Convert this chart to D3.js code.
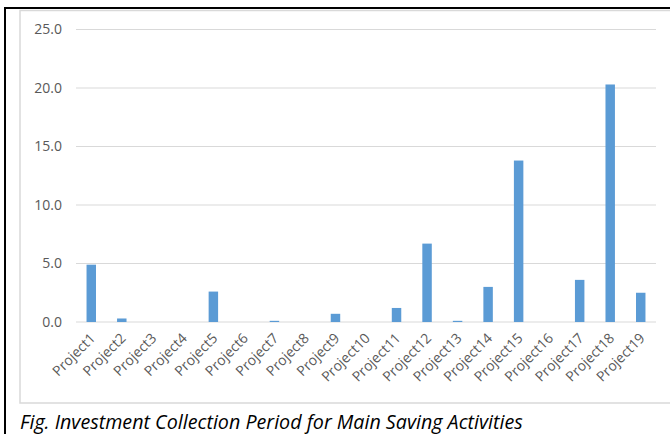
<!DOCTYPE html>
<html>
<head>
<meta charset="utf-8">
<script src="https://cdn.jsdelivr.net/npm/d3@7"></script>
<style>
body { margin:0; background:#fff; }
</style>
</head>
<body>
<svg id="chart"></svg>
<script>
var projects = ["Project1","Project2","Project3","Project4","Project5","Project6","Project7",
    "Project8","Project9","Project10","Project11","Project12","Project13","Project14",
    "Project15","Project16","Project17","Project18","Project19"]
var periods = [4.9,0.3,0,0,2.6,0,0.1,0,0.7,0,1.2,6.7,0.1,3.0,13.8,0,3.6,20.3,2.5]
var yTicks = [0,5,10,15,20,25]
var caption = "Fig. Investment Collection Period for Main Saving Activities"

var screen = {width:670, height:434}
var margins = {top:29.5, left:76, right:14, bottom:112}
var graph = {
    width:screen.width-margins.left-margins.right,
    height:screen.height-margins.top-margins.bottom
}

var svg = d3.select("#chart")
    .attr("width",screen.width)
    .attr("height",screen.height)

// outer frame (black) and chart area (gray)
svg.append("rect")
    .attr("x",20).attr("y",10.5)
    .attr("width",670).attr("height",392.5)
    .attr("fill","none")
    .attr("stroke","#d9d9d9")
    .attr("stroke-width",1.5)

svg.append("line")
    .attr("x1",5).attr("x2",670).attr("y1",8).attr("y2",8)
    .attr("stroke","#000").attr("stroke-width",2)
svg.append("line")
    .attr("x1",5).attr("x2",5).attr("y1",7).attr("y2",434)
    .attr("stroke","#000").attr("stroke-width",2)

var xScale = d3.scaleBand()
    .domain(projects)
    .range([0,graph.width])
    .paddingInner(0.69)
    .paddingOuter(0.345)

var yScale = d3.scaleLinear()
    .domain([0,25])
    .range([graph.height,0])

var g = svg.append("g")
    .attr("transform","translate("+margins.left+","+margins.top+")")

// gridlines
g.append("g")
    .selectAll("line")
    .data(yTicks)
    .enter()
    .append("line")
    .attr("x1",0)
    .attr("x2",graph.width)
    .attr("y1",function(d){return yScale(d)})
    .attr("y2",function(d){return yScale(d)})
    .attr("stroke","#d9d9d9")
    .attr("stroke-width",1)

// y axis labels
var yAxis = d3.axisLeft(yScale)
    .tickValues(yTicks)
    .tickFormat(d3.format(".1f"))
    .tickSize(0)
    .tickPadding(14)

g.append("g")
    .call(yAxis)
    .call(function(a){a.select(".domain").remove()})
    .selectAll("text")
    .attr("fill","#595959")
    .style("font-family","'Open Sans', sans-serif")
    .style("font-size","14px")

// bars
g.selectAll("rect.bar")
    .data(periods)
    .enter()
    .append("rect")
    .classed("bar",true)
    .attr("x",function(d,i){return xScale(projects[i])})
    .attr("width",xScale.bandwidth())
    .attr("y",function(d){return yScale(d)})
    .attr("height",function(d){return graph.height-yScale(d)})
    .attr("fill","#5b9bd5")

// x axis labels
var xAxis = d3.axisBottom(xScale).tickSize(0).tickPadding(0)

g.append("g")
    .attr("transform","translate(0,"+graph.height+")")
    .call(xAxis)
    .call(function(a){a.select(".domain").remove()})
    .selectAll("text")
    .attr("fill","#595959")
    .style("font-family","'Open Sans', sans-serif")
    .style("font-size","14px")
    .attr("text-anchor","end")
    .attr("dy","0")
    .attr("transform","translate(5,17) rotate(-45)")

// caption
var cap = svg.append("text")
    .attr("x",20)
    .attr("y",429)
    .attr("fill","#000")
    .style("font-family","'Open Sans', sans-serif")
    .style("font-style","italic")
    .style("font-size","20px")
    .text(caption)

var w = cap.node().getComputedTextLength()
cap.style("font-size",(20*503/w)+"px")
</script>
</body>
</html>
